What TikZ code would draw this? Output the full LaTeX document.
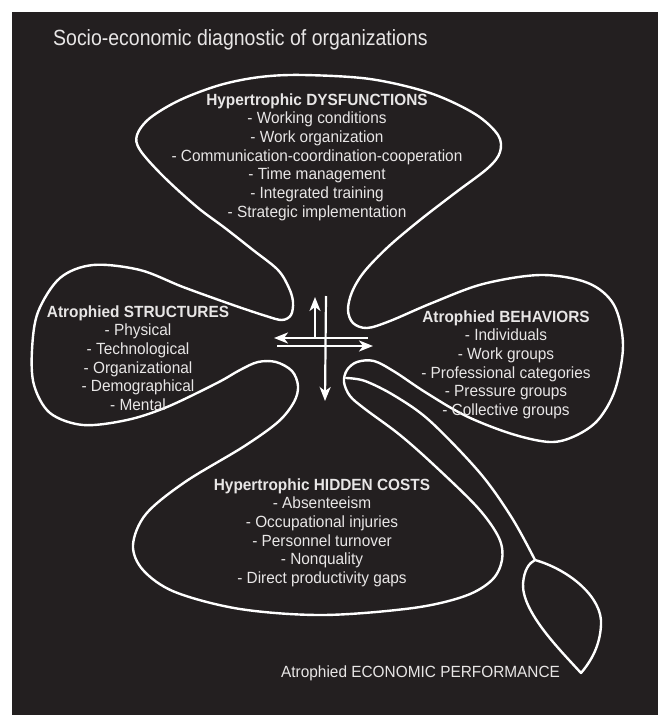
\documentclass[tikz,border=0pt]{standalone}
\usepackage{fontspec}
\setmainfont[FakeStretch=0.95]{Liberation Sans}
\newfontfamily\headfont[FakeStretch=0.885]{Liberation Sans}
\usetikzlibrary{arrows.meta}
\definecolor{board}{HTML}{231F20}
\definecolor{ink}{HTML}{E8E6E6}

\begin{document}
\begin{tikzpicture}[x=1pt,y=-1pt,
  outline/.style={draw=white, line width=2.4pt, line join=round, line cap=round},
  blocktext/.style={text=ink, align=center, inner sep=0pt, anchor=base,
    font=\fontsize{16.2}{18.7}\selectfont},
  flow/.style={draw=white, line width=2.2pt,
    -{Stealth[length=14pt,width=11pt,inset=4pt]}}]

% page and dark board
\useasboundingbox (0,0) rectangle (664,715);
\fill[white] (0,0) rectangle (664,715);
\fill[board] (12,12) rectangle (658,715);

% four-lobed outline
\draw[outline] plot[smooth cycle, tension=0.55] coordinates {
  (303,75) (370,79) (430,93) (475,114) (498,135) (500,152) (488,168)
  (455,193) (420,220) (388,247) (364,272) (352,292) (348,310) (353,323)
  (367,328) (390,321) (432,303) (483,284) (541,275) (588,283) (614,305)
  (623,345) (615,390) (598,420) (575,436) (550,442) (512,434) (466,416)
  (425,392) (395,372) (374,361) (357,362) (347,370) (344,382) (350,396)
  (365,409) (400,435) (435,466) (478,508) (499,538) (502,560) (492,580)
  (465,596) (413,608) (323,615) (240,609) (175,592) (143,570) (133,545)
  (146,514) (185,482) (243,447) (278,422) (294,402) (298,386) (292,371)
  (276,362) (258,362) (240,370) (217,383) (167,407) (127,420) (83,425)
  (50,413) (34,385) (32,350) (38,312) (60,278) (93,265) (140,270)
  (183,287) (233,305) (266,316) (282,320) (291,315) (293,302) (289,288)
  (278,270) (253,250) (225,228) (197,207) (163,176) (140,150) (137,135)
  (150,118) (180,100) (220,85) (260,77)};

% stem and leaf
\draw[outline] plot[smooth, tension=0.55] coordinates {
  (346,378) (365,381) (395,396) (430,421) (480,473) (512,518) (535,560)};
\draw[outline] (535,560) .. controls (570,570) and (603,598) .. (601,625)
  .. controls (600,645) and (592,660) .. (581,673)
  .. controls (560,650) and (522,612) .. (523,584)
  .. controls (524,570) and (529,563) .. (535,560) -- cycle;

% title
\node[text=ink, anchor=base west, inner sep=0pt,
  font=\headfont\fontsize{22}{26}\selectfont] (title) at (53,45)
  {Socio-economic diagnostic of organizations};

% lobe texts (anchored on the baseline of their last line)
\node[blocktext] (dys) at (317,217.2) {\textbf{Hypertrophic DYSFUNCTIONS}\\
  - Working conditions\\ - Work organization\\
  - Communication-coordination-cooperation\\ - Time management\\
  - Integrated training\\ - Strategic implementation};
\node[blocktext] (str) at (138,410.5) {\textbf{Atrophied STRUCTURES}\\
  - Physical\\ - Technological\\ - Organizational\\ - Demographical\\ - Mental};
\node[blocktext] (beh) at (506,415.5) {\textbf{Atrophied BEHAVIORS}\\
  - Individuals\\ - Work groups\\ - Professional categories\\
  - Pressure groups\\ - Collective groups};
\node[blocktext] (hid) at (322,583.5) {\textbf{Hypertrophic HIDDEN COSTS}\\
  - Absenteeism\\ - Occupational injuries\\ - Personnel turnover\\
  - Nonquality\\ - Direct productivity gaps};
\node[text=ink, anchor=base west, inner sep=0pt,
  font=\fontsize{16.2}{18.7}\selectfont] (eco) at (281,677)
  {Atrophied ECONOMIC PERFORMANCE};

% central arrows
\coordinate (upA) at (315,339);
\coordinate (upB) at (315,297);
\coordinate (dnA) at (326,296);
\coordinate (dnB) at (325,401);
\coordinate (lfA) at (368,338);
\coordinate (lfB) at (274,338);
\coordinate (rtA) at (277,346);
\coordinate (rtB) at (373,346);
\draw[flow] (upA) -- (upB);
\draw[flow] (dnA) -- (dnB);
\draw[flow] (lfA) -- (lfB);
\draw[flow] (rtA) -- (rtB);
\end{tikzpicture}
\end{document}
